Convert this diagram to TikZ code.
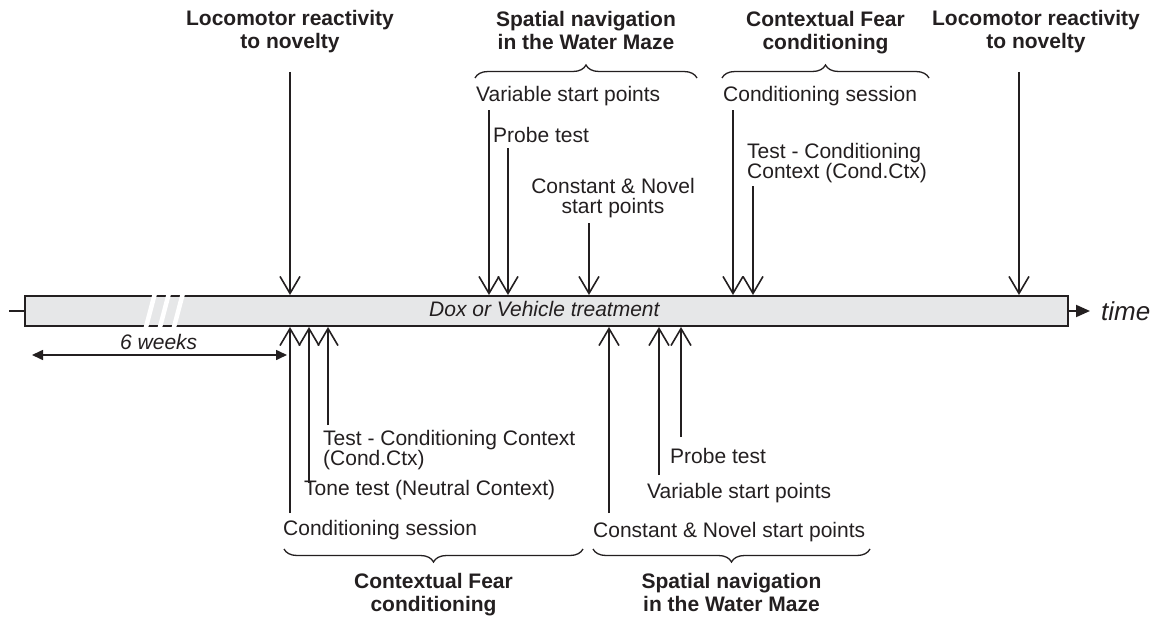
\documentclass[tikz,border=0pt]{standalone}
\usepackage{fontspec}
\setmainfont{Liberation Sans}
\usetikzlibrary{arrows.meta,decorations.pathreplacing,calc}
\definecolor{ink}{HTML}{231F20}
\definecolor{barfill}{HTML}{E6E7E8}
\begin{document}
\begin{tikzpicture}[x=1pt,y=-1pt,
  txt/.style={inner sep=0pt, align=left, text=ink, font=\fontsize{21}{20}\selectfont},
  ctxt/.style={txt, align=center},
  ttl/.style={inner sep=0pt, align=center, text=ink, font=\fontsize{21}{23}\selectfont\bfseries},
  evt/.style={draw=ink, line width=1.6pt, -{Straight Barb[length=17pt,width=20pt]}},
  brc/.style={draw=ink, line width=1.3pt, decorate, decoration={brace, amplitude=13pt}},
  brcm/.style={draw=ink, line width=1.3pt, decorate, decoration={brace, mirror, amplitude=13pt}},
  barbox/.style={draw=ink, fill=barfill, line width=2pt, inner sep=0pt,
    minimum width=1043pt, minimum height=30pt},
  tri/.style={Triangle[length=11pt,width=9pt]},
]
\useasboundingbox (0,0) rectangle (1152,618);

% ---- timeline bar ----
\node[barbox] (bar) at (546.5,311) {};
\foreach \bx in {145.5,159.5,173.5}
  \draw[white, line width=4.5pt] (\bx,329) -- (\bx+9.5,293);
\node[txt, anchor=base west, font=\fontsize{21}{20}\selectfont\itshape] (dox) at (429,316) {Dox or Vehicle treatment};
\coordinate (tick) at (9,311);
\draw[ink, line width=2pt] (tick) -- (bar.west);
\coordinate (tend) at (1090,311);
\draw[ink, line width=2pt, -{Triangle[length=14pt,width=12pt]}] (bar.east) -- (tend);
\node[inner sep=0pt, anchor=base west, text=ink, font=\fontsize{26}{26}\selectfont\itshape] (time) at (1101,320) {time};

% ---- 6 weeks ----
\coordinate (w1) at (32,355);
\coordinate (w2) at (287,355);
\draw[ink, line width=1.6pt, {Triangle[length=11pt,width=10pt]}-{Triangle[length=11pt,width=10pt]}] (w1) -- (w2);
\node[txt, anchor=north west, font=\fontsize{21}{20}\selectfont\itshape] (wk) at (120,334) {6 weeks};

% ---- top: locomotor left ----
\node[ttl, anchor=north] (locL) at (290,10) {Locomotor reactivity\\to novelty};
\coordinate (aL) at (290,72);
\draw[evt] (aL) -- (aL |- bar.north);

% ---- top: water maze ----
\node[ttl, anchor=north] (wmT) at (586,11) {Spatial navigation\\in the Water Maze};
\coordinate (wmb1) at (475,78);
\coordinate (wmb2) at (697,78);
\draw[brc] (wmb1) -- (wmb2);
\node[txt, anchor=north west] (vspT) at (476,86) {Variable start points};
\node[txt, anchor=north west] (ptT) at (493,127) {Probe test};
\node[ctxt, anchor=north] (cnT) at (613,178) {Constant \& Novel\\start points};
\coordinate (a1) at (489,110);
\coordinate (a2) at (508,148);
\coordinate (a3) at (589,223);
\draw[evt] (a1) -- (a1 |- bar.north);
\draw[evt] (a2) -- (a2 |- bar.north);
\draw[evt] (a3) -- (a3 |- bar.north);

% ---- top: contextual fear ----
\node[ttl, anchor=north] (cfT) at (825.5,11) {Contextual Fear\\conditioning};
\coordinate (cfb1) at (722,78);
\coordinate (cfb2) at (929,78);
\draw[brc] (cfb1) -- (cfb2);
\node[txt, anchor=north west] (csT) at (723,86) {Conditioning session};
\node[txt, anchor=north west] (tcT) at (747,143) {Test - Conditioning\\Context (Cond.Ctx)};
\coordinate (a4) at (733,110);
\coordinate (a5) at (753,186);
\draw[evt] (a4) -- (a4 |- bar.north);
\draw[evt] (a5) -- (a5 |- bar.north);

% ---- top: locomotor right ----
\node[ttl, anchor=north] (locR) at (1036,10) {Locomotor reactivity\\to novelty};
\coordinate (aR) at (1019,72);
\draw[evt] (aR) -- (aR |- bar.north);

% ---- bottom: contextual fear ----
\node[txt, anchor=north west] (tcB) at (323,430) {Test - Conditioning Context\\(Cond.Ctx)};
\node[txt, anchor=north west] (ttB) at (304,480) {Tone test (Neutral Context)};
\node[txt, anchor=north west] (csB) at (283,520) {Conditioning session};
\coordinate (b1) at (290,513);
\coordinate (b2) at (309,483);
\coordinate (b3) at (328,425);
\draw[evt] (b1) -- (b1 |- bar.south);
\draw[evt] (b2) -- (b2 |- bar.south);
\draw[evt] (b3) -- (b3 |- bar.south);
\coordinate (cfB1) at (284,549);
\coordinate (cfB2) at (583,549);
\draw[brcm] (cfB1) -- (cfB2);
\node[ttl, anchor=north] (cfB) at (433.5,573) {Contextual Fear\\conditioning};

% ---- bottom: water maze ----
\node[txt, anchor=north west] (ptB) at (670,448) {Probe test};
\node[txt, anchor=north west] (vspB) at (647,483) {Variable start points};
\node[txt, anchor=north west] (cnB) at (593,522) {Constant \& Novel start points};
\coordinate (b4) at (609,513);
\coordinate (b5) at (659,475);
\coordinate (b6) at (681,437);
\draw[evt] (b4) -- (b4 |- bar.south);
\draw[evt] (b5) -- (b5 |- bar.south);
\draw[evt] (b6) -- (b6 |- bar.south);
\coordinate (wmB1) at (593,549);
\coordinate (wmB2) at (870,549);
\draw[brcm] (wmB1) -- (wmB2);
\node[ttl, anchor=north] (wmB) at (731.5,573) {Spatial navigation\\in the Water Maze};
\end{tikzpicture}
\end{document}
